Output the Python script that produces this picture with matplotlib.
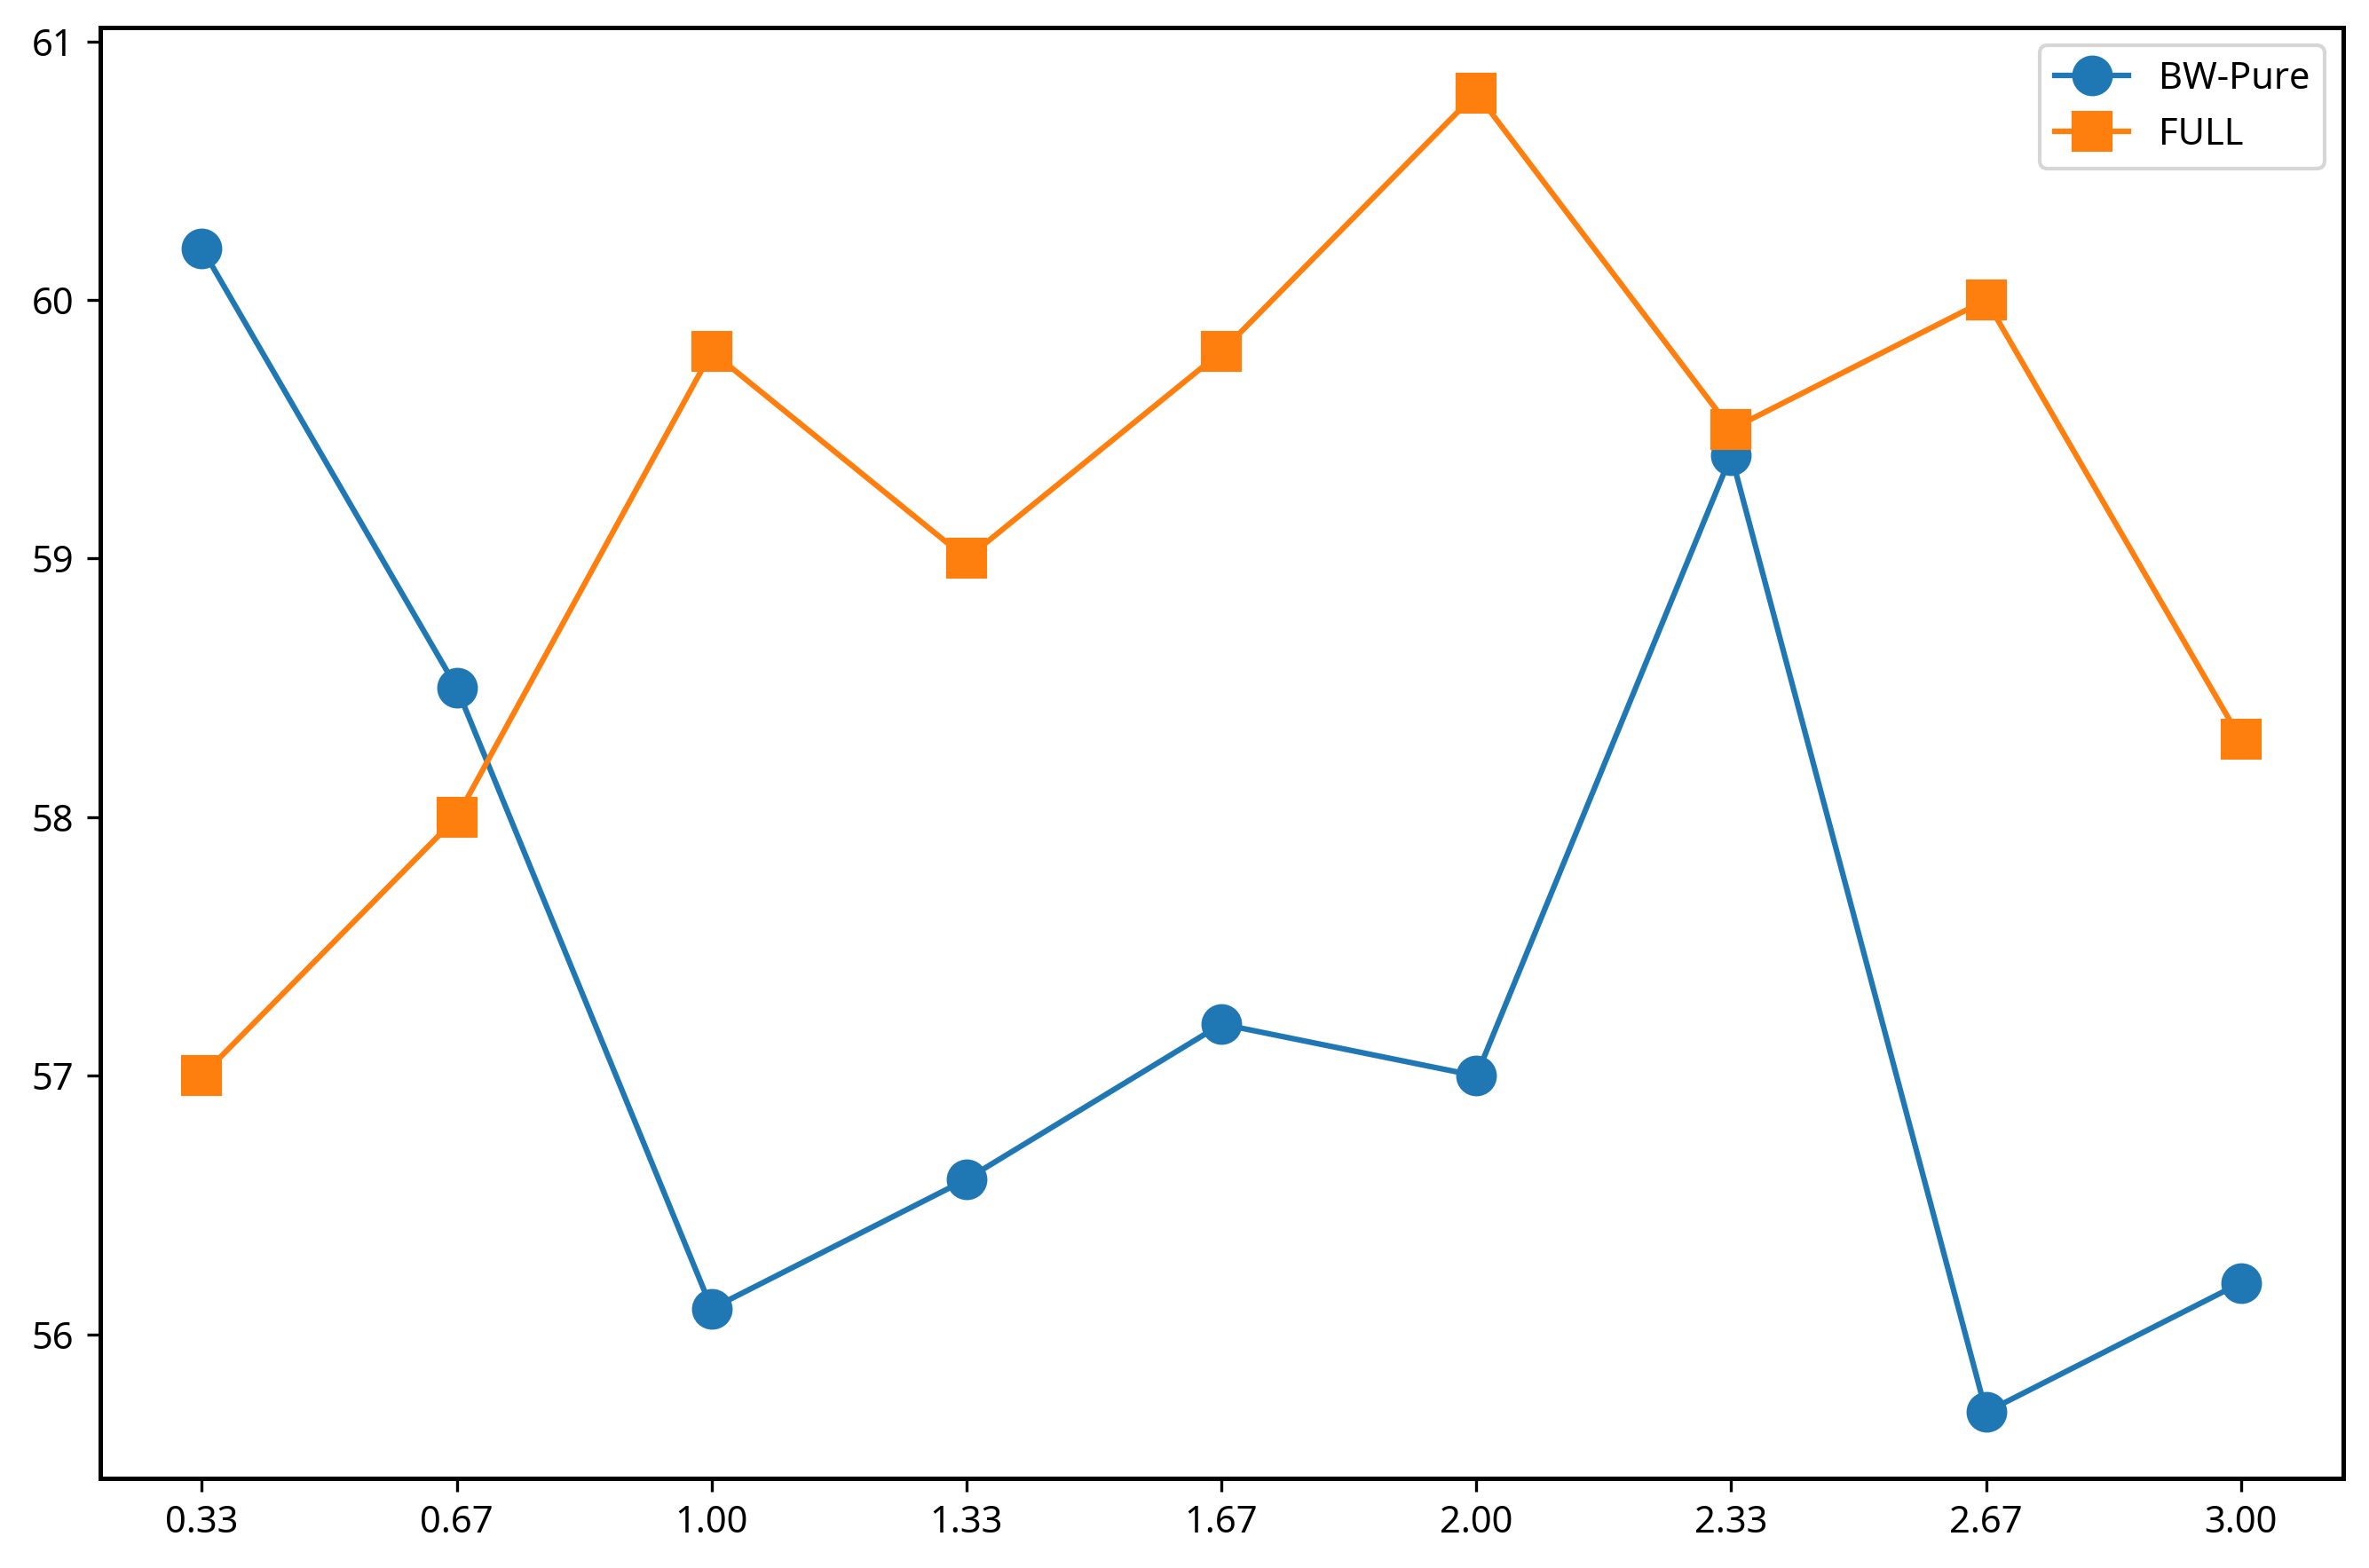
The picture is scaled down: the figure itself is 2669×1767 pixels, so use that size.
import matplotlib
matplotlib.use("Agg")
import matplotlib.pyplot as plt

plt.rcParams['font.family'] = ['Noto Sans', 'DejaVu Sans']
plt.rcParams['axes.linewidth'] = 1.2

x_values = [1/3, 2/3, 1.0, 4/3, 5/3, 2.0, 7/3, 8/3, 3.0]
x_labels = ["0.33", "0.67", "1.00", "1.33", "1.67", "2.00", "2.33", "2.67", "3.00"]
bw_pure = [60.2, 58.5, 56.1, 56.6, 57.2, 57.0, 59.4, 55.7, 56.2]
full = [57.0, 58.0, 59.8, 59.0, 59.8, 60.8, 59.5, 60.0, 58.3]

fig, ax = plt.subplots(figsize=(2669 / 300, 1767 / 300), dpi=300)
fig.subplots_adjust(left=0.0422, right=0.9890, top=0.9827, bottom=0.0574)

ax.plot(x_values, bw_pure, marker='o', markersize=10, label='BW-Pure')
ax.plot(x_values, full, marker='s', markersize=10, label='FULL')

ax.set_xticks(x_values)
ax.set_xticklabels(x_labels)
ax.tick_params(width=0.8)
ax.legend(loc='upper right')

fig.savefig('out.png', dpi=300)
